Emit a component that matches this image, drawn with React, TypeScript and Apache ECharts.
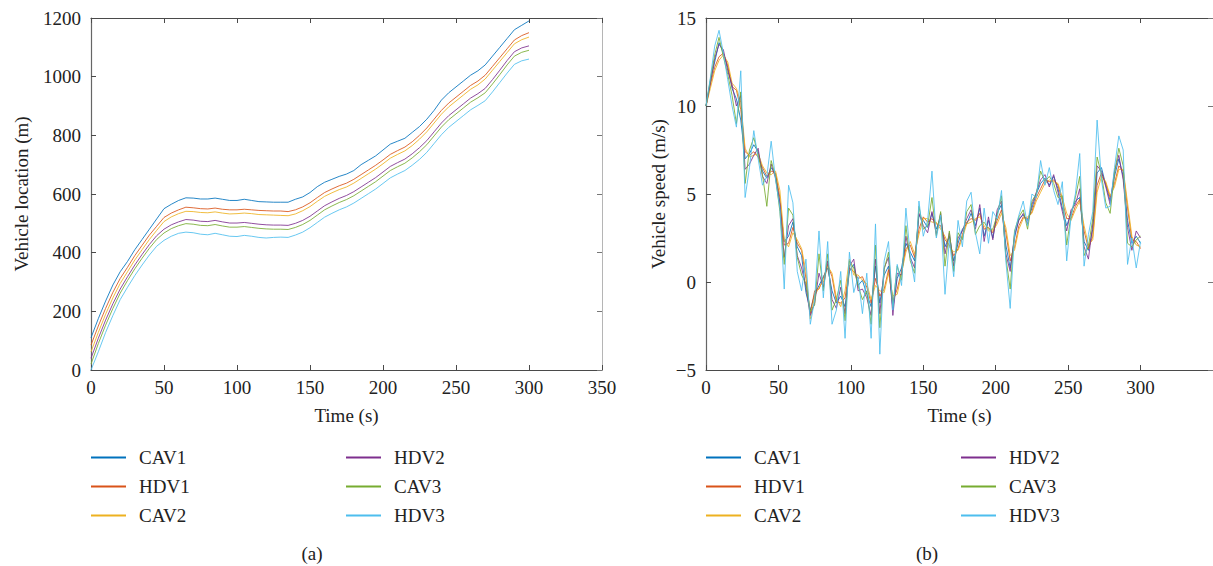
import React, { useEffect, useRef } from "react";
import * as echarts from "echarts";

const FONT = "Liberation Serif";

const seriesNames = ["CAV1", "HDV1", "CAV2", "HDV2", "CAV3", "HDV3"];
const seriesColors = ["#0072BD", "#D95319", "#EDB120", "#7E2F8E", "#77AC30", "#4DBEEE"];

// (a) vehicle location, sampled every 5 s
const timeA = [0, 5, 10, 15, 20, 25, 30, 35, 40, 45, 50, 55, 60, 65, 70, 75, 80, 85, 90, 95, 100, 105, 110, 115, 120, 125, 130, 135, 140, 145, 150, 155, 160, 165, 170, 175, 180, 185, 190, 195, 200, 205, 210, 215, 220, 225, 230, 235, 240, 245, 250, 255, 260, 265, 270, 275, 280, 285, 290, 295, 300];
const locCAV1 = [110, 175, 235, 290, 335, 370, 410, 445, 480, 515, 550, 565, 578, 587, 586, 583, 583, 586, 582, 578, 578, 582, 578, 574, 573, 572, 572, 572, 582, 590, 605, 625, 640, 650, 660, 668, 680, 700, 715, 730, 750, 770, 780, 790, 810, 830, 855, 885, 920, 945, 965, 985, 1005, 1020, 1040, 1070, 1100, 1130, 1160, 1175, 1190];
const locHDV1 = [85, 150, 210, 265, 312, 350, 390, 425, 460, 490, 520, 535, 546, 555, 553, 550, 549, 552, 548, 546, 546, 548, 546, 544, 543, 542, 542, 540, 546, 556, 570, 588, 605, 617, 628, 637, 650, 666, 682, 698, 716, 735, 748, 760, 778, 800, 825, 855, 885, 910, 930, 950, 970, 985, 1005, 1035, 1065, 1095, 1125, 1140, 1150];
const locCAV2 = [62, 128, 190, 246, 295, 335, 375, 410, 445, 476, 506, 522, 533, 541, 540, 537, 536, 539, 535, 532, 533, 535, 533, 530, 529, 528, 527, 526, 532, 543, 557, 575, 592, 604, 615, 624, 637, 653, 669, 685, 703, 722, 735, 747, 765, 787, 812, 842, 872, 897, 917, 937, 957, 972, 992, 1022, 1052, 1082, 1112, 1126, 1135];
const locHDV2 = [40, 108, 170, 226, 276, 318, 358, 394, 428, 458, 480, 495, 505, 513, 511, 507, 506, 510, 505, 501, 501, 503, 500, 497, 495, 494, 494, 493, 500, 510, 524, 542, 560, 573, 585, 595, 608, 624, 640, 656, 675, 694, 707, 719, 737, 758, 782, 812, 842, 867, 887, 907, 927, 942, 960, 990, 1022, 1055, 1085, 1098, 1105];
const locCAV3 = [20, 90, 153, 210, 262, 305, 345, 381, 415, 445, 467, 482, 492, 499, 497, 493, 492, 496, 491, 487, 487, 489, 486, 483, 481, 480, 480, 479, 486, 496, 510, 528, 546, 559, 571, 581, 594, 610, 626, 642, 661, 680, 693, 705, 723, 744, 768, 798, 828, 853, 873, 893, 913, 928, 945, 975, 1007, 1040, 1070, 1083, 1090];
const locHDV3 = [0, 62, 128, 186, 240, 282, 322, 358, 392, 422, 442, 456, 466, 470, 468, 463, 461, 466, 461, 456, 455, 459, 456, 452, 450, 452, 453, 452, 460, 470, 485, 503, 521, 534, 546, 556, 569, 585, 601, 617, 636, 655, 668, 680, 698, 718, 742, 772, 802, 827, 847, 867, 887, 902, 918, 948, 980, 1012, 1042, 1054, 1060];

// (b) vehicle speed, sampled every 3 s
const timeB = [0, 3, 6, 9, 12, 15, 18, 21, 24, 27, 30, 33, 36, 39, 42, 45, 48, 51, 54, 57, 60, 63, 66, 69, 72, 75, 78, 81, 84, 87, 90, 93, 96, 99, 102, 105, 108, 111, 114, 117, 120, 123, 126, 129, 132, 135, 138, 141, 144, 147, 150, 153, 156, 159, 162, 165, 168, 171, 174, 177, 180, 183, 186, 189, 192, 195, 198, 201, 204, 207, 210, 213, 216, 219, 222, 225, 228, 231, 234, 237, 240, 243, 246, 249, 252, 255, 258, 261, 264, 267, 270, 273, 276, 279, 282, 285, 288, 291, 294, 297, 300];
const spdCAV1 = [
  10.0, 11.4, 12.5, 13.6, 13.0, 12.2, 11.0, 10.4, 9.2, 7.0,
  7.3, 7.8, 7.4, 6.3, 5.9, 6.5, 6.1, 4.5, 2.3, 2.6,
  3.4, 2.0, 1.5, -0.6, -1.6, -0.7, -0.2, 0.3, 0.8, -0.5,
  -1.2, -0.8, -1.4, 0.6, 1.0, -0.2, 0.1, -0.7, -1.4, 0.9,
  -1.2, 0.4, 0.9, -1.5, 0.2, 0.8, 2.2, 1.7, 1.2, 3.8,
  3.5, 3.1, 3.9, 3.0, 3.7, 2.0, 2.6, 1.2, 2.2, 3.0,
  3.3, 3.9, 3.2, 4.2, 2.6, 3.5, 2.5, 3.9, 4.4, 2.1,
  0.8, 2.5, 3.6, 3.8, 3.5, 4.2, 5.0, 5.6, 5.9, 5.5,
  6.0, 5.3, 4.2, 3.2, 3.9, 4.6, 4.8, 2.3, 1.8, 3.0,
  6.2, 6.5, 5.5, 4.6, 6.0, 7.0, 6.0, 3.5, 2.2, 2.6,
  2.2,
];
const spdHDV1 = [
  10.0, 11.2, 12.2, 12.8, 13.0, 12.3, 11.1, 10.9, 9.8, 7.4,
  7.2, 7.4, 7.1, 6.5, 6.0, 6.3, 6.2, 4.8, 2.1, 2.2,
  3.1, 2.2, 1.8, 0.2, -1.8, -0.5, -0.4, 0.2, 1.0, 0.3,
  -1.1, -1.2, -0.9, 0.8, 0.6, 0.2, 0.3, -0.3, -1.2, 0.2,
  -0.8, -0.4, 0.7, -1.1, -0.4, 0.6, 1.9, 2.1, 1.4, 3.0,
  3.7, 3.4, 3.6, 3.3, 3.2, 2.4, 2.1, 1.5, 1.9, 2.7,
  3.4, 3.6, 3.5, 3.9, 3.0, 3.1, 2.8, 3.5, 4.1, 2.8,
  1.2, 2.0, 3.2, 3.7, 3.6, 4.0, 4.8, 5.3, 5.8, 5.7,
  5.8, 5.5, 4.6, 3.6, 3.6, 4.3, 4.7, 2.9, 1.9, 2.6,
  5.5, 6.2, 5.6, 4.8, 5.6, 6.6, 6.3, 4.2, 2.4, 2.3,
  1.9,
];
const spdCAV2 = [
  10.0, 11.0, 12.0, 12.6, 12.9, 12.5, 11.3, 11.0, 10.2, 7.6,
  7.1, 7.2, 7.3, 6.6, 6.2, 6.1, 6.3, 5.2, 2.4, 2.0,
  2.8, 2.4, 1.9, 0.6, -2.1, -0.8, -0.3, 0.0, 0.9, 0.5,
  -0.9, -1.4, -0.5, 1.3, 0.4, 0.4, 0.1, -0.1, -1.0, -0.2,
  -0.5, -0.6, 0.5, -0.8, -0.7, 0.5, 1.7, 2.3, 1.6, 2.7,
  3.6, 3.6, 3.4, 3.4, 3.0, 2.6, 2.0, 1.7, 1.8, 2.5,
  3.3, 3.4, 3.6, 3.7, 3.2, 2.9, 2.9, 3.3, 3.9, 3.1,
  1.5, 1.8, 3.0, 3.6, 3.7, 3.9, 4.6, 5.1, 5.6, 5.8,
  5.7, 5.6, 4.8, 3.9, 3.5, 4.1, 4.6, 3.2, 2.1, 2.4,
  5.1, 6.0, 5.7, 4.9, 5.4, 6.4, 6.4, 4.5, 2.6, 2.1,
  2.0,
];
const spdHDV2 = [
  10.0, 11.3, 12.7, 13.5, 13.2, 12.0, 11.2, 10.0, 10.6, 6.4,
  6.7, 7.2, 7.6, 6.0, 5.6, 6.7, 5.9, 4.4, 1.4, 3.2,
  3.6, 1.5, 0.8, -0.3, -1.9, -1.2, 0.5, -0.3, 1.2, -1.0,
  -1.5, -0.3, -1.8, 0.9, 1.3, -0.5, -0.4, -0.9, -1.9, 1.3,
  -1.8, 0.8, 1.4, -1.9, 0.5, 0.4, 2.6, 1.4, 0.8, 3.9,
  3.2, 2.8, 4.0, 2.7, 3.9, 1.6, 2.8, 0.9, 2.5, 2.9,
  3.6, 4.1, 3.0, 4.4, 2.3, 3.7, 2.4, 4.1, 4.6, 1.6,
  0.6, 2.7, 3.5, 3.9, 3.3, 4.4, 5.1, 5.8, 6.1, 5.4,
  6.1, 5.1, 4.0, 2.9, 4.1, 4.4, 5.3, 2.0, 1.3, 3.3,
  6.6, 6.3, 5.4, 4.4, 6.3, 7.2, 5.8, 3.1, 1.8, 2.9,
  2.5,
];
const spdCAV3 = [
  10.0, 11.5, 12.9, 13.9, 12.8, 11.8, 10.6, 9.0, 10.8, 5.6,
  7.5, 8.2, 7.2, 6.1, 4.3, 6.9, 6.0, 4.0, 1.0, 4.2,
  3.8, 1.4, 0.4, -0.1, -1.7, -1.3, 1.6, -0.5, 1.6, -1.6,
  -1.0, 0.1, -2.2, 1.2, 0.8, -0.2, -1.0, -0.5, -2.4, 2.1,
  -2.6, 0.7, 1.7, -1.4, 0.9, 0.1, 3.2, 1.2, 0.5, 4.3,
  3.0, 3.2, 4.8, 2.6, 4.0, 0.9, 2.9, 0.6, 2.8, 2.4,
  4.0, 4.4, 2.7, 3.2, 3.4, 3.0, 3.0, 3.8, 4.9, 1.4,
  -0.4, 2.9, 3.7, 4.1, 3.0, 4.6, 5.0, 6.3, 5.7, 6.0,
  5.6, 4.8, 4.9, 2.1, 3.8, 4.8, 6.0, 1.5, 2.0, 3.6,
  7.1, 6.1, 4.5, 3.9, 6.2, 7.6, 6.6, 2.2, 2.0, 2.4,
  2.6,
];
const spdHDV3 = [
  10.0, 11.6, 13.4, 14.3, 13.0, 11.5, 10.0, 8.8, 12.0, 4.8,
  6.5, 8.6, 7.0, 5.5, 6.0, 8.0, 5.8, 4.2, -0.4, 5.5,
  4.5, 0.6, -0.5, 1.3, -2.4, -1.0, 2.9, -0.9, 2.3, -2.4,
  -1.6, 0.6, -3.2, 1.7, -0.6, 0.3, -1.8, 0.5, -3.2, 3.3,
  -4.1, 1.2, 2.3, -1.6, 1.0, -0.2, 4.2, 1.5, 0.0, 4.6,
  2.6, 3.5, 6.3, 2.5, 3.8, -0.7, 2.4, 0.3, 3.5, 2.0,
  4.6, 5.1, 2.8, 1.6, 4.2, 2.2, 4.0, 3.6, 5.2, 1.2,
  -1.5, 2.8, 3.8, 4.6, 3.2, 5.0, 4.8, 6.9, 5.5, 6.5,
  5.2, 4.4, 5.7, 1.2, 3.7, 5.0, 7.3, 0.9, 2.7, 4.0,
  9.2, 5.8, 4.2, 4.3, 6.5, 8.3, 7.5, 1.0, 2.5, 0.8,
  2.3,
];

const locSeries = [locCAV1, locHDV1, locCAV2, locHDV2, locCAV3, locHDV3];
const spdSeries = [spdCAV1, spdHDV1, spdCAV2, spdHDV2, spdCAV3, spdHDV3];

const xTicks = { min: 0, max: 350, interval: 50 };
const yTicksA = { min: 0, max: 1200, interval: 200 };
const yTicksB = { min: -5, max: 15, interval: 5 };

const labelStyle = { fontFamily: FONT, fontSize: 19, color: "#222" };
const dark = "#4a4a4a";
const light = "#b5b5b5";

const plainFmt = (v: number) => (v < 0 ? "\u2212" + Math.abs(v) : String(v));

function mainX(gridIndex: number, extra: any = {}) {
  return {
    type: "value",
    gridIndex,
    position: "bottom",
    ...xTicks,
    name: "Time (s)",
    nameLocation: "middle",
    nameGap: 36,
    nameTextStyle: { ...labelStyle },
    axisLine: { show: true, onZero: false, lineStyle: { color: dark, width: 1.2 } },
    axisTick: { show: true, inside: true, length: 5, lineStyle: { color: dark } },
    axisLabel: { ...labelStyle, margin: 8, formatter: plainFmt, ...extra },
    splitLine: { show: false },
  };
}
function frameX(gridIndex: number) {
  return {
    type: "value",
    gridIndex,
    position: "top",
    ...xTicks,
    axisLine: { show: true, onZero: false, lineStyle: { color: dark, width: 1.2 } },
    axisTick: { show: true, inside: true, length: 5, lineStyle: { color: dark } },
    axisLabel: { show: false },
    splitLine: { show: false },
  };
}
function mainY(gridIndex: number, ticks: any, name: string, nameGap: number) {
  return {
    type: "value",
    gridIndex,
    position: "left",
    ...ticks,
    name,
    nameLocation: "middle",
    nameGap,
    nameTextStyle: { ...labelStyle },
    axisLine: { show: true, onZero: false, lineStyle: { color: "#666", width: 1.2 } },
    axisTick: { show: true, inside: true, length: 5, lineStyle: { color: dark } },
    axisLabel: { ...labelStyle, margin: 10, formatter: plainFmt },
    splitLine: { show: false },
  };
}
function frameY(gridIndex: number, ticks: any) {
  return {
    type: "value",
    gridIndex,
    position: "right",
    ...ticks,
    axisLine: { show: true, onZero: false, lineStyle: { color: light, width: 1 } },
    axisTick: { show: true, inside: true, length: 5, lineStyle: { color: "#777" } },
    axisLabel: { show: false },
    splitLine: { show: false },
  };
}

const legendBase = {
  orient: "vertical",
  padding: 0,
  itemGap: 10,
  itemWidth: 35,
  itemHeight: 2,
  icon: "rect",
  selectedMode: false,
  textStyle: { ...labelStyle, lineHeight: 19, padding: [0, 0, 0, 8] },
};

export default function App() {
  const ref = useRef<HTMLDivElement>(null);
  useEffect(() => {
    if (!ref.current) return;
    const chart = echarts.init(ref.current, undefined, { renderer: "svg" });
    const series: any[] = [];
    seriesNames.forEach((name, i) => {
      series.push({
        name,
        type: "line",
        xAxisIndex: 0,
        yAxisIndex: 0,
        showSymbol: false,
        symbol: "none",
        color: seriesColors[i],
        lineStyle: { width: 1, color: seriesColors[i], opacity: 0.85 },
        data: timeA.map((t, k) => [t, locSeries[i][k]]),
      });
    });
    seriesNames.forEach((name, i) => {
      series.push({
        name,
        type: "line",
        xAxisIndex: 2,
        yAxisIndex: 2,
        showSymbol: false,
        symbol: "none",
        color: seriesColors[i],
        lineStyle: { width: 1, color: seriesColors[i], opacity: 0.85 },
        data: timeB.map((t, k) => [t, spdSeries[i][k]]),
      });
    });
    chart.setOption({
      animation: false,
      backgroundColor: "#ffffff",
      textStyle: { fontFamily: FONT },
      grid: [
        { left: 91, top: 18, width: 511, height: 352 },
        { left: 706, top: 18, width: 513, height: 352 },
      ],
      xAxis: [mainX(0), frameX(0), mainX(1, { showMaxLabel: false }), frameX(1)],
      yAxis: [
        mainY(0, yTicksA, "Vehicle location (m)", 60),
        frameY(0, yTicksA),
        mainY(1, yTicksB, "Vehicle speed (m/s)", 38),
        frameY(1, yTicksB),
      ],
      legend: [
        { ...legendBase, left: 91, top: 448, data: seriesNames.slice(0, 3) },
        { ...legendBase, left: 346, top: 448, data: seriesNames.slice(3, 6) },
        { ...legendBase, left: 706, top: 448, data: seriesNames.slice(0, 3) },
        { ...legendBase, left: 961, top: 448, data: seriesNames.slice(3, 6) },
      ],
      graphic: [
        { type: "text", x: 312, y: 553, style: { text: "(a)", fill: "#222", fontFamily: FONT, fontSize: 19, textAlign: "center", textVerticalAlign: "middle" } },
        { type: "text", x: 927, y: 553, style: { text: "(b)", fill: "#222", fontFamily: FONT, fontSize: 19, textAlign: "center", textVerticalAlign: "middle" } },
      ],
      series,
    });
    return () => chart.dispose();
  }, []);
  return (
    <div
      ref={ref}
      style={{ position: "fixed", left: 0, top: 0, width: 1213, height: 566, background: "#fff" }}
    />
  );
}
